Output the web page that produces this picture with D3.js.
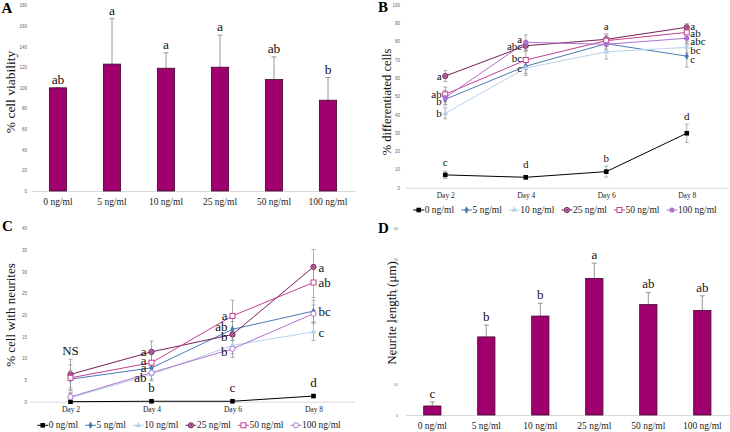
<!DOCTYPE html>
<html>
<head>
<meta charset="utf-8">
<script src="https://cdn.jsdelivr.net/npm/d3@7"></script>
<style>
body { margin: 0; background: #fff; }
text { font-family: "Liberation Serif", "DejaVu Serif", serif; }
</style>
</head>
<body>
<svg id="chart" width="730" height="432"></svg>
<script>
const doses = ["0 ng/ml", "5 ng/ml", "10 ng/ml", "25 ng/ml", "50 ng/ml", "100 ng/ml"];
const days = ["Day 2", "Day 4", "Day 6", "Day 8"];

// panel A - cell viability
const viability = [100, 123, 119, 120, 108, 88];
const viabilityErr = [0, 44, 15, 31, 22, 22];
const viabilityLetters = ["ab", "a", "a", "a", "ab", "b"];
const viabilityTicks = [0, 20, 40, 60, 80, 100, 120, 140, 160, 180];

// panel B - differentiated cells, one row per dose
const diffCells = [
  [7, 5.7, 8.8, 29.8],
  [48.4, 66.5, 78.8, 72],
  [40.7, 65.5, 74.4, 76.8],
  [61.1, 77.7, 81.2, 87.8],
  [51.1, 69.9, 80.5, 85],
  [49.3, 79.6, 78.5, 81.8]
];
const diffErr = [
  [2, 1, 3, 5],
  [3, 4, 3, 6],
  [3, 4, 4, 3],
  [3, 3, 3, 2],
  [4, 5, 3, 3],
  [4, 4, 3, 3]
];
const diffLetters = [
  ["c", "d", "b", "d"],
  ["b", "c", null, "c"],
  ["b", null, null, "bc"],
  ["a", "abc", "a", "a"],
  ["ab", "bc", null, "ab"],
  [null, "a", null, "abc"]
];
const diffTicks = [0, 10, 20, 30, 40, 50, 60, 70, 80, 90, 100];

// panel C - cells with neurites
const neuriteCells = [
  [0, 0.1, 0.1, 1.3],
  [5.2, 7.8, 16.7, 20.9],
  [0.9, 6.3, 13, 16.1],
  [6.3, 11.5, 15.5, 31.1],
  [5.5, 9, 19.8, 27.5],
  [1.1, 6.7, 12.2, 20.3]
];
const neuriteErr = [
  [0, 0, 0, 0.3],
  [2, 1.5, 2.5, 2.5],
  [1, 1.5, 2, 2],
  [3.5, 2.5, 3, 4],
  [3, 2, 3.6, 3.5],
  [1, 1.5, 2, 2]
];
const neuriteLetters = [
  [null, "b", "c", "d"],
  [null, "a", "ab", "bc"],
  [null, "ab", null, "c"],
  ["NS", "a", "b", "a"],
  [null, "a", "a", "ab"],
  [null, null, "b", null]
];
const neuriteTicks = [0, 5, 10, 15, 20, 25, 30, 35, 40];

// panel D - neurite length
const neuriteLength = [2.9, 25.1, 31.8, 43.9, 35.5, 33.6];
const neuriteLengthErr = [1.3, 3.8, 4.1, 4.9, 3.9, 4.7];
const neuriteLengthLetters = ["c", "b", "b", "a", "ab", "ab"];
const neuriteLengthTicks = [0, 10, 20, 30, 40, 50, 60];

const barColor = "#a0006e";
const colors = ["#000000", "#4a7db4", "#b9d2eb", "#761f58", "#c4408f", "#b072cf"];
const markersB = ["square", "diamond", "triangle", "xcircle", "opensquare", "circle"];
const markersC = ["square", "diamond", "triangle", "xcircle", "opensquare", "opencircle"];

const svg = d3.select("#chart");

function marker(g, type, x, y, color) {
  if (type === "square") {
    g.append("rect").attr("x", x - 2.3).attr("y", y - 2.3).attr("width", 4.6).attr("height", 4.6).attr("fill", color);
  } else if (type === "opensquare") {
    g.append("rect").attr("x", x - 2.5).attr("y", y - 2.5).attr("width", 5).attr("height", 5)
      .attr("fill", "#fff").attr("stroke", color).attr("stroke-width", 1);
  } else if (type === "diamond") {
    g.append("path").attr("d", d3.symbol(d3.symbolDiamond, 16)()).attr("transform", `translate(${x},${y})`).attr("fill", color);
  } else if (type === "triangle") {
    g.append("path").attr("d", d3.symbol(d3.symbolTriangle, 15)()).attr("transform", `translate(${x},${y})`).attr("fill", color);
  } else if (type === "xcircle") {
    g.append("circle").attr("cx", x).attr("cy", y).attr("r", 2.6).attr("fill", "#c98ab5").attr("stroke", color).attr("stroke-width", 1);
    g.append("path").attr("d", `M${x - 1.6},${y - 1.6}L${x + 1.6},${y + 1.6}M${x - 1.6},${y + 1.6}L${x + 1.6},${y - 1.6}`)
      .attr("stroke", color).attr("stroke-width", 0.8);
  } else if (type === "circle") {
    g.append("circle").attr("cx", x).attr("cy", y).attr("r", 2.6).attr("fill", color);
  } else {
    g.append("circle").attr("cx", x).attr("cy", y).attr("r", 2.6).attr("fill", "#fff").attr("stroke", color).attr("stroke-width", 1);
  }
}

function leftTicks(g, y, ticks, x, size) {
  g.append("g")
    .attr("transform", `translate(${x},0)`)
    .call(d3.axisLeft(y).tickValues(ticks).tickSize(0).tickPadding(0))
    .call(a => a.select(".domain").remove())
    .call(a => a.selectAll("text").attr("fill", "#666").style("font-size", size + "px")
      .style("font-family", "'Liberation Sans', sans-serif"));
}

function bottomAxis(g, x, yPos, size, pad) {
  g.append("g")
    .attr("transform", `translate(0,${yPos})`)
    .call(d3.axisBottom(x).tickSize(0).tickSizeOuter(0).tickPadding(pad))
    .call(a => a.select(".domain").attr("stroke", "#d9d9d9"))
    .call(a => a.selectAll("text").attr("fill", "#222").style("font-size", size + "px")
      .style("font-family", "'Liberation Serif', serif"));
}

function yTitle(x, y, label, size) {
  svg.append("text").attr("transform", `translate(${x},${y}) rotate(-90)`)
    .attr("text-anchor", "middle").attr("dominant-baseline", "central")
    .style("font-size", size + "px").attr("fill", "#111").text(label);
}

function panelLetter(x, y, t) {
  svg.append("text").attr("x", x).attr("y", y).style("font-size", "15px")
    .style("font-weight", "bold").attr("fill", "#000").text(t);
}

function barPanel(opt) {
  const g = svg.append("g");
  const x = d3.scaleBand().domain(doses).range(opt.xRange).paddingInner(0.68).paddingOuter(0.34);
  const y = d3.scaleLinear().domain(opt.yDomain).range(opt.yRange);
  leftTicks(g, y, opt.ticks, opt.tickX, opt.tickSize);
  bottomAxis(g, x, opt.yRange[0], 9.5, opt.labelPad);

  const cx = d => x(d) + x.bandwidth() / 2;
  // error bars (upper whisker only)
  g.selectAll(".err").data(doses).join("path")
    .attr("d", (d, i) => {
      const t = y(opt.values[i] + opt.err[i]);
      return `M${cx(d)},${y(opt.values[i])}V${t}M${cx(d) - 2.5},${t}H${cx(d) + 2.5}`;
    })
    .attr("stroke", "#8c8c8c").attr("stroke-width", 0.9).attr("fill", "none");

  g.selectAll(".bar").data(doses).join("rect")
    .attr("x", d => x(d)).attr("width", x.bandwidth())
    .attr("y", (d, i) => y(opt.values[i]))
    .attr("height", (d, i) => opt.yRange[0] - y(opt.values[i]))
    .attr("fill", barColor).attr("stroke", "#3b0a2a").attr("stroke-width", 0.8);

  g.selectAll(".lab").data(doses).join("text")
    .attr("x", d => cx(d))
    .attr("y", (d, i) => y(opt.values[i] + opt.err[i]) - 4)
    .attr("text-anchor", "middle").style("font-size", opt.letterSize + "px").attr("fill", "#111")
    .text((d, i) => opt.letters[i]);
}

function linePanel(opt) {
  const g = svg.append("g");
  const x = d3.scalePoint().domain(days).range(opt.xRange).padding(0.5);
  const y = d3.scaleLinear().domain(opt.yDomain).range(opt.yRange);
  leftTicks(g, y, opt.ticks, opt.tickX, 4.5);
  bottomAxis(g, x, opt.yRange[0], 7.5, opt.labelPad);

  // error bars
  opt.values.forEach((row, s) => {
    row.forEach((v, i) => {
      const e = opt.err[s][i];
      if (!e) return;
      const px = x(days[i]);
      g.append("path")
        .attr("d", `M${px},${y(v - e)}V${y(v + e)}M${px - 2},${y(v - e)}H${px + 2}M${px - 2},${y(v + e)}H${px + 2}`)
        .attr("stroke", "#9a9a9a").attr("stroke-width", 0.8).attr("fill", "none");
    });
  });

  const line = d3.line().x((v, i) => x(days[i])).y(v => y(v));
  opt.values.forEach((row, s) => {
    g.append("path").datum(row).attr("d", line)
      .attr("fill", "none").attr("stroke", colors[s]).attr("stroke-width", 1);
  });
  opt.values.forEach((row, s) => {
    row.forEach((v, i) => marker(g, opt.markers[s], x(days[i]), y(v), colors[s]));
  });

  // significance letters
  opt.letters.forEach((row, s) => {
    row.forEach((t, i) => {
      if (!t) return;
      const px = x(days[i]);
      const py = y(opt.values[s][i]);
      const pos = s === 0 ? "above" : opt.pos[s][i];
      const lab = g.append("text").style("font-size", opt.letterSize + "px").attr("fill", "#111").text(t);
      const dy = (opt.nudge[s + "," + i] || 0);
      if (pos === "above") {
        const top = Math.min(y(opt.values[s][i] + opt.err[s][i]), py - 5);
        lab.attr("x", px).attr("y", top - 4 + dy).attr("text-anchor", "middle");
      } else if (pos === "left") {
        lab.attr("x", px - opt.gap).attr("y", py + 4 + dy).attr("text-anchor", "end");
      } else {
        lab.attr("x", px + opt.gap).attr("y", py + 5 + dy).attr("text-anchor", "start");
      }
    });
  });

  // legend
  const lg = g.append("g");
  let cur = 0;
  doses.forEach((d, s) => {
    const it = lg.append("g");
    it.append("line").attr("x1", 0).attr("x2", 11).attr("y1", -3).attr("y2", -3)
      .attr("stroke", colors[s]).attr("stroke-width", 1);
    marker(it, opt.markers[s], 5.5, -3, colors[s]);
    const tx = it.append("text").attr("x", 11.5).attr("y", 0).style("font-size", "9.5px").attr("fill", "#222").text(d);
    const w = 11.5 + tx.node().getComputedTextLength();
    it.attr("transform", `translate(${cur},0)`);
    cur += w + 7;
  });
  const total = cur - 7;
  lg.attr("transform", `translate(${opt.legendCenter - total / 2},${opt.legendY})`);
}

// A
barPanel({
  xRange: [31, 355], yDomain: [0, 180], yRange: [191, 5.3], ticks: viabilityTicks,
  tickX: 27, tickSize: 4.5, labelPad: 7, values: viability, err: viabilityErr,
  letters: viabilityLetters, letterSize: 13.5
});
yTitle(10, 92, "% cell viability", 13.5);
panelLetter(1.5, 12.7, "A");

// B
linePanel({
  xRange: [405, 727], yDomain: [0, 100], yRange: [187.7, 5], ticks: diffTicks, tickX: 400,
  labelPad: 5, values: diffCells, err: diffErr, letters: diffLetters, letterSize: 11,
  markers: markersB, gap: 3.5,
  pos: [null,
    ["left", "left", "above", "right"], ["left", "left", "above", "right"],
    ["left", "left", "above", "right"], ["left", "left", "above", "right"],
    ["left", "left", "above", "right"]],
  nudge: { "5,1": -3.5, "4,1": -2, "1,1": 1.5, "1,0": 1.5,
    "3,3": -2.5, "5,3": 1.5, "2,3": 1.5, "1,3": 1.5 },
  legendCenter: 565, legendY: 213
});
yTitle(387, 102, "% differentiated cells", 12.5);
panelLetter(378, 12, "B");

// C
linePanel({
  xRange: [30, 354], yDomain: [0, 40], yRange: [401.7, 228.3], ticks: neuriteTicks, tickX: 27,
  labelPad: 5, values: neuriteCells, err: neuriteErr, letters: neuriteLetters, letterSize: 13,
  markers: markersC, gap: 5,
  pos: [null,
    [null, "left", "left", "right"], [null, "left", "left", "right"],
    ["above", "left", "left", "right"], [null, "left", "left", "right"],
    [null, "left", "left", "right"]],
  nudge: { "2,1": 4, "4,1": -1.5, "1,1": 0.5, "1,2": -2, "3,2": 2.5, "5,2": 3 },
  legendCenter: 189, legendY: 428.3
});
yTitle(10, 315, "% cell with neurites", 13);
panelLetter(2, 231, "C");

// D
barPanel({
  xRange: [405.3, 729.3], yDomain: [0, 60], yRange: [415, 228.3], ticks: neuriteLengthTicks,
  tickX: 398, tickSize: 3.5, labelPad: 7, values: neuriteLength, err: neuriteLengthErr,
  letters: neuriteLengthLetters, letterSize: 13
});
yTitle(391, 313, "Neurite length (μm)", 13);
panelLetter(378, 233, "D");
</script>
</body>
</html>
